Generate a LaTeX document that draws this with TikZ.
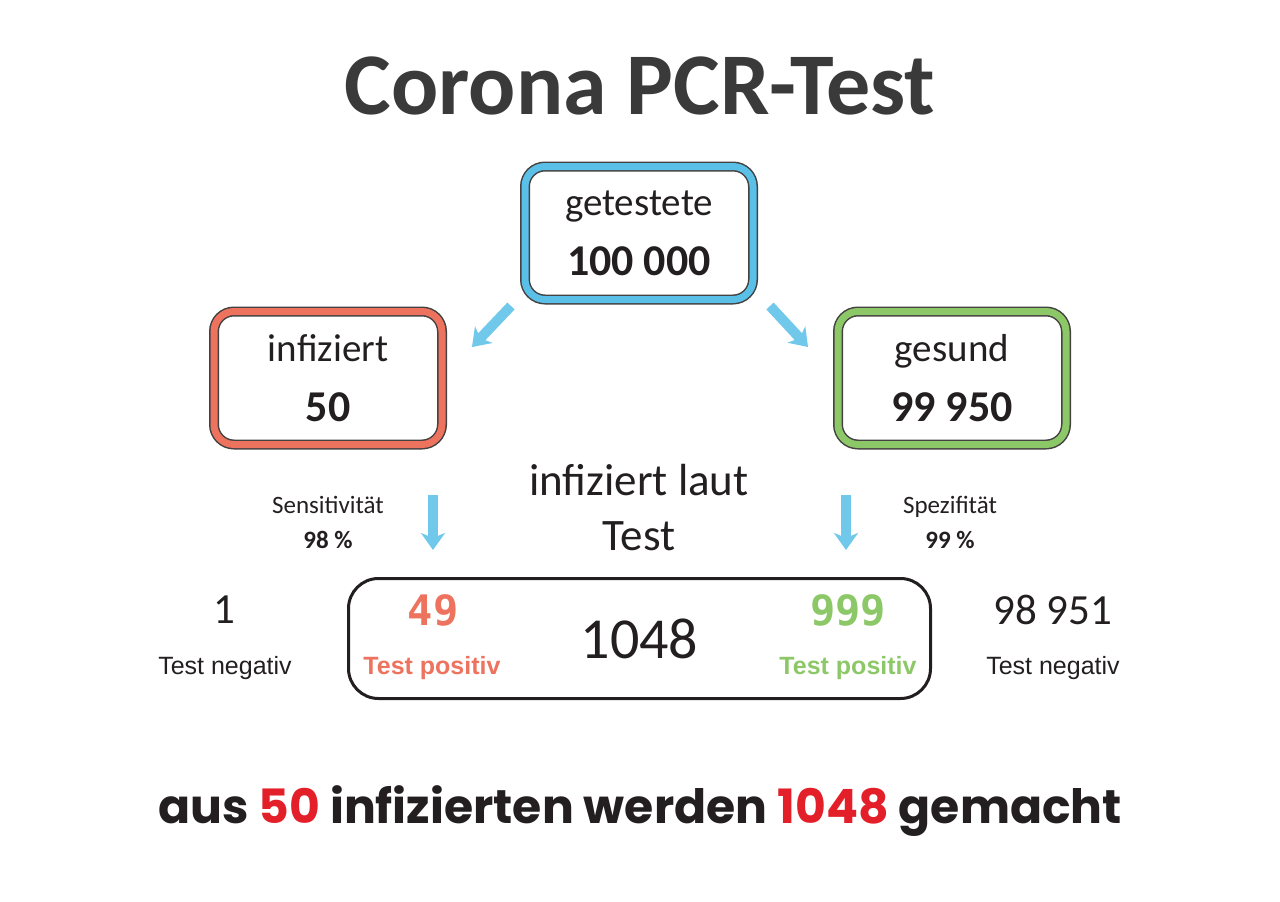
\documentclass[tikz,border=0pt]{standalone}
\usepackage{fontspec}
\setmainfont{Carlito}
\newfontfamily\arialfont{Liberation Sans}
\newfontfamily\digitfont{DejaVu Sans Mono}
\newfontfamily\claimfont{Poppins}
\usetikzlibrary{arrows.meta, positioning, calc}
\definecolor{testblue}{HTML}{5BC0E8}
\definecolor{infred}{HTML}{EE735F}
\definecolor{okgreen}{HTML}{8DC868}
\definecolor{arrowblue}{HTML}{70C8EA}
\definecolor{alarmred}{HTML}{E3202A}
\definecolor{ink}{HTML}{231F20}
\definecolor{titlegray}{HTML}{3A3A3A}
\tikzset{
    countbox/.style={rectangle, rounded corners=20pt, draw=ink!85, line width=1.5pt, double distance=7pt, minimum width=228pt, minimum height=133pt, align=center, outer sep=0pt, text=ink, font=\fontsize{39}{60}\selectfont},
    resultbox/.style={rectangle, rounded corners=30pt, draw=ink, line width=3pt, minimum width=582pt, minimum height=120pt, outer sep=0pt, text=ink, font=\fontsize{58}{60}\selectfont},
    bluearrow/.style={draw=arrowblue, line width=10pt, -{Stealth[width=24pt, length=17pt, inset=5pt]}},
    rate/.style={align=center, text=ink, font=\fontsize{25}{35}\selectfont},
    count/.style={inner sep=0pt, font=\digitfont\bfseries\fontsize{42}{44}\selectfont},
    verdict/.style={inner sep=0pt, font=\arialfont\bfseries\fontsize{25}{28}\selectfont},
    outside/.style={inner sep=0pt, text=ink, font=\fontsize{43}{45}\selectfont},
    negative/.style={inner sep=0pt, text=ink, font=\arialfont\fontsize{25}{28}\selectfont}
}
\begin{document}
\begin{tikzpicture}[x=1pt, y=-1pt]
    \useasboundingbox (0,0) rectangle (1280,902);

    % Title
    \node[inner sep=0pt, text=titlegray, font=\fontsize{88}{90}\selectfont\bfseries] (title) at (640,86) {Corona PCR-Test};

    % Tree of boxes
    \node[countbox, double=testblue] (tested) at (639,233) {getestete\\{\bfseries\fontsize{44}{60}\selectfont 100 000}};
    \node[countbox, double=infred] (infected) at (328,378) {infiziert\\{\bfseries\fontsize{44}{60}\selectfont 50}};
    \node[countbox, double=okgreen] (healthy) at (952,378) {gesund\\{\bfseries\fontsize{44}{60}\selectfont 99 950}};

    % Test properties
    \node[rate] (sens) at (328,522) {Sensitivität\\\textbf{98 \%}};
    \node[rate] (spec) at (950,522) {Spezifität\\\textbf{99 \%}};
    \node[align=center, text=ink, font=\fontsize{45}{55}\selectfont] (laut) at (639,508) {infiziert laut\\Test};

    % Results
    \node[resultbox] (total) at (639.5,638.5) {1048};
    \node[count, text=infred] (falseneg) at (433,610) {49};
    \node[verdict, text=infred] (fnlabel) at (432,668) {Test positiv};
    \node[count, text=okgreen] (falsepos) at (848,610) {999};
    \node[verdict, text=okgreen] (fplabel) at (848,668) {Test positiv};
    \node[outside] (missed) at (224,610) {1};
    \node[negative] (missedlabel) at (225,668) {Test negativ};
    \node[outside] (cleared) at (1053,610) {98 951};
    \node[negative] (clearedlabel) at (1053,668) {Test negativ};

    % Arrows
    \draw[bluearrow] ([xshift=-14pt, yshift=-6.5pt]tested.south west) -- ([xshift=30pt, yshift=-35.5pt]infected.north east);
    \draw[bluearrow] ([xshift=17pt, yshift=-6.5pt]tested.south east) -- ([xshift=-30pt, yshift=-35.5pt]healthy.north west);
    \draw[bluearrow] ($(infected.south -| falseneg)+(0,50)$) -- ($(infected.south -| falseneg)+(0,105.5)$);
    \draw[bluearrow] ($(healthy.south -| falsepos)+(-2,50)$) -- ($(healthy.south -| falsepos)+(-2,105.5)$);

    % Claim
    \node[inner sep=0pt, text=ink, font=\claimfont\bfseries\fontsize{47.3}{50}\selectfont] (claim) at (640,811) {aus \textcolor{alarmred}{50} infizierten werden \textcolor{alarmred}{1048} gemacht};
\end{tikzpicture}
\end{document}
